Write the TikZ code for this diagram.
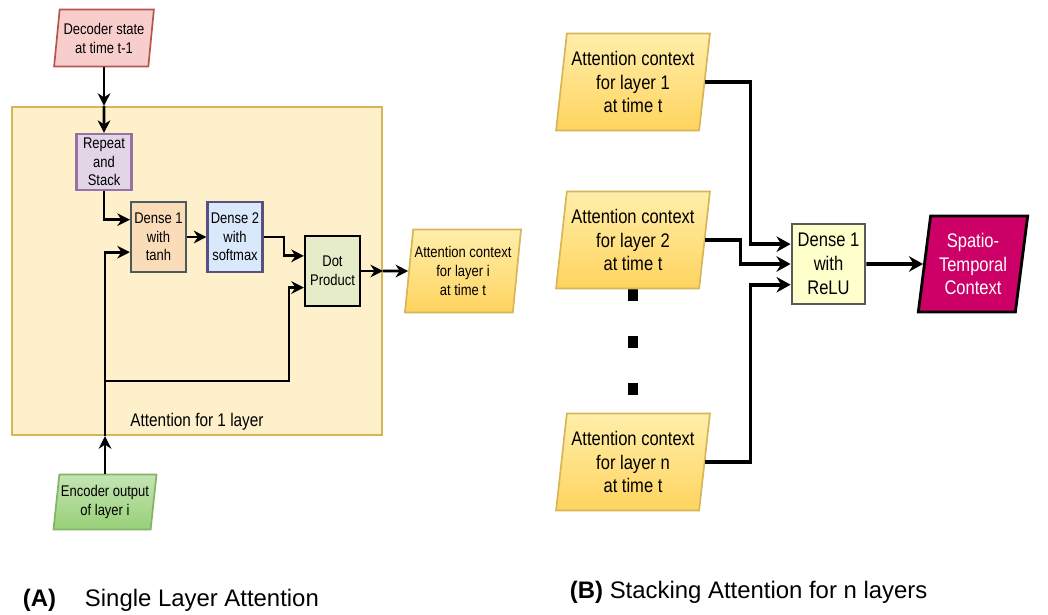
\documentclass[tikz,border=0pt]{standalone}
\usepackage{fontspec}
\setmainfont{Liberation Sans}
\newfontfamily\narrowfont[FakeStretch=0.84]{Liberation Sans}
\definecolor{DecFill}{RGB}{248, 206, 204}
\definecolor{DecLine}{RGB}{184, 84, 80}
\definecolor{LayerFill}{RGB}{253, 240, 202}
\definecolor{LayerLine}{RGB}{214, 182, 86}
\definecolor{RepFill}{RGB}{225, 213, 231}
\definecolor{RepLine}{RGB}{150, 115, 166}
\definecolor{TanhFill}{RGB}{250, 220, 185}
\definecolor{TanhLine}{RGB}{77, 90, 90}
\definecolor{SoftFill}{RGB}{218, 232, 252}
\definecolor{SoftLine}{RGB}{86, 81, 126}
\definecolor{DotFill}{RGB}{230, 236, 200}
\definecolor{CtxTop}{RGB}{255, 238, 170}
\definecolor{CtxBottom}{RGB}{255, 212, 95}
\definecolor{EncTop}{RGB}{197, 228, 180}
\definecolor{EncBottom}{RGB}{151, 208, 119}
\definecolor{EncLine}{RGB}{130, 179, 102}
\definecolor{ReluFill}{RGB}{255, 255, 204}
\definecolor{ReluLine}{RGB}{90, 90, 90}
\definecolor{SpatioFill}{RGB}{204, 0, 102}
\usetikzlibrary{shapes.geometric, arrows.meta, calc}

\begin{document}
\begin{tikzpicture}[
        x=0.025cm, y=-0.025cm,
        blk/.style={rectangle, draw, line width=1.5pt, minimum width=1.375cm, minimum height=1.75cm, align=center, inner sep=1pt, font=\narrowfont\fontsize{11}{13.2}\selectfont},
        io/.style={trapezium, trapezium left angle=81, trapezium right angle=99, trapezium stretches=true, draw, line width=1.2pt, align=center, inner sep=1pt},
        ctx/.style={io, top color=CtxTop, bottom color=CtxBottom, draw=LayerLine, minimum width=3.85cm, minimum height=2.425cm, font=\narrowfont\fontsize{14}{17}\selectfont},
        arrow/.style={-{Stealth[length=9pt, width=9pt]}, line width=2pt},
        bigarrow/.style={-{Stealth[length=10pt, width=11pt]}, line width=2.6pt},
        caption/.style={anchor=base west, font=\fontsize{17}{20}\selectfont}
    ]
        \useasboundingbox (0,0) rectangle (1048,614);

        % (A) Single layer attention
        \node[rectangle, draw=LayerLine, fill=LayerFill, line width=1.5pt, minimum width=9.25cm, minimum height=8.2cm] (attbox) at (197, 271) {};
        \node[font=\narrowfont\fontsize{13}{15}\selectfont] (attlbl) at (197, 422) {Attention for 1 layer};

        \node[io, fill=DecFill, draw=DecLine, minimum width=2.5cm, minimum height=1.425cm, font=\narrowfont\fontsize{11}{13.5}\selectfont] (dec) at (104, 38) {Decoder state\\at time t-1};
        \node[io, top color=EncTop, bottom color=EncBottom, draw=EncLine, minimum width=2.575cm, minimum height=1.375cm, font=\narrowfont\fontsize{11}{14}\selectfont] (enc) at (105, 502) {Encoder output\\of layer i};

        \node[blk, fill=RepFill, draw=RepLine, minimum height=1.4cm] (rep) at (104, 162) {Repeat\\and\\Stack};
        \node[blk, fill=TanhFill, draw=TanhLine] (tanh) at (158.5, 237) {Dense 1\\with\\tanh};
        \node[blk, fill=SoftFill, draw=SoftLine] (soft) at (235, 237) {Dense 2\\with\\softmax};
        \node[blk, fill=DotFill, draw=black] (dotp) at (332.5, 271) {Dot\\Product};

        \node[io, top color=CtxTop, bottom color=CtxBottom, draw=LayerLine, minimum width=2.8cm, minimum height=2.075cm, font=\narrowfont\fontsize{11}{13.5}\selectfont] (atti) at (463, 271) {Attention context\\for layer i\\at time t};

        % entry points on the box edges
        \coordinate (topin) at (dec.south |- attbox.north);
        \coordinate (botin) at (enc.north |- attbox.south);
        \coordinate (rightout) at (attbox.east |- dotp.east);
        \coordinate (split) at ([yshift=1.375cm]botin);
        \coordinate (tanhin1) at ($(tanh.north west)!0.26!(tanh.south west)$);
        \coordinate (tanhin2) at ($(tanh.north west)!0.71!(tanh.south west)$);
        \coordinate (dotin1) at ($(dotp.north west)!0.29!(dotp.south west)$);
        \coordinate (dotin2) at ($(dotp.north west)!0.73!(dotp.south west)$);

        \draw[arrow] (dec.south) -- (topin);
        \draw[arrow] (topin) -- (rep.north);
        \draw[arrow] (rep.south) |- (tanhin1);
        \draw[arrow] (tanh) -- (soft);
        \draw[arrow] (soft.east) -| ([xshift=-0.5cm]dotin1) -- (dotin1);
        \draw[arrow] (enc.north) -- (botin);
        \draw[arrow] (botin) |- (tanhin2);
        \draw[arrow] (split) -| ([xshift=-0.375cm]dotin2) -- (dotin2);
        \draw[arrow] (dotp.east) -- (rightout);
        \draw[arrow] (rightout) -- (atti.west);

        % (B) Stacking attention for n layers
        \foreach \y [count=\i] in {295, 342, 389} {
            \node[rectangle, fill=black, minimum width=0.25cm, minimum height=0.28cm, inner sep=0pt] (gap\i) at (633, \y) {};
        }
        \node[ctx] (ctx1) at (633, 82) {Attention context\\for layer 1\\at time t};
        \node[ctx] (ctx2) at (633, 240) {Attention context\\for layer 2\\at time t};
        \node[ctx] (ctxn) at (633, 462) {Attention context\\for layer n\\at time t};

        \node[blk, fill=ReluFill, draw=ReluLine, line width=2pt, minimum width=1.825cm, minimum height=2cm, font=\narrowfont\fontsize{14}{17}\selectfont] (relu) at (828.5, 264) {Dense 1\\with\\ReLU};
        \node[io, fill=SpatioFill, draw=black, line width=2pt, text=white, minimum width=2.75cm, minimum height=2.4cm, font=\narrowfont\fontsize{14}{17}\selectfont] (spatio) at (973, 264) {Spatio-\\Temporal\\Context};

        \coordinate (reluin1) at ($(relu.north west)!0.26!(relu.south west)$);
        \coordinate (reluin2) at ($(relu.north west)!0.5!(relu.south west)$);
        \coordinate (reluin3) at ($(relu.north west)!0.75!(relu.south west)$);

        \draw[bigarrow] (ctx1.east) -| ([xshift=-1cm]reluin1) -- (reluin1);
        \draw[bigarrow] (ctx2.east) -| ([xshift=-1.25cm]reluin2) -- (reluin2);
        \draw[bigarrow] (ctxn.east) -| ([xshift=-1cm]reluin3) -- (reluin3);
        \draw[bigarrow] (relu) -- (spatio);

        % captions
        \node[caption] (capa) at (18, 606) {\textbf{(A)}};
        \node[caption] (capatxt) at (80, 606) {Single Layer Attention};
        \node[caption] (capb) at (565, 598) {\textbf{(B)} Stacking Attention for n layers};
    \end{tikzpicture}
\end{document}
